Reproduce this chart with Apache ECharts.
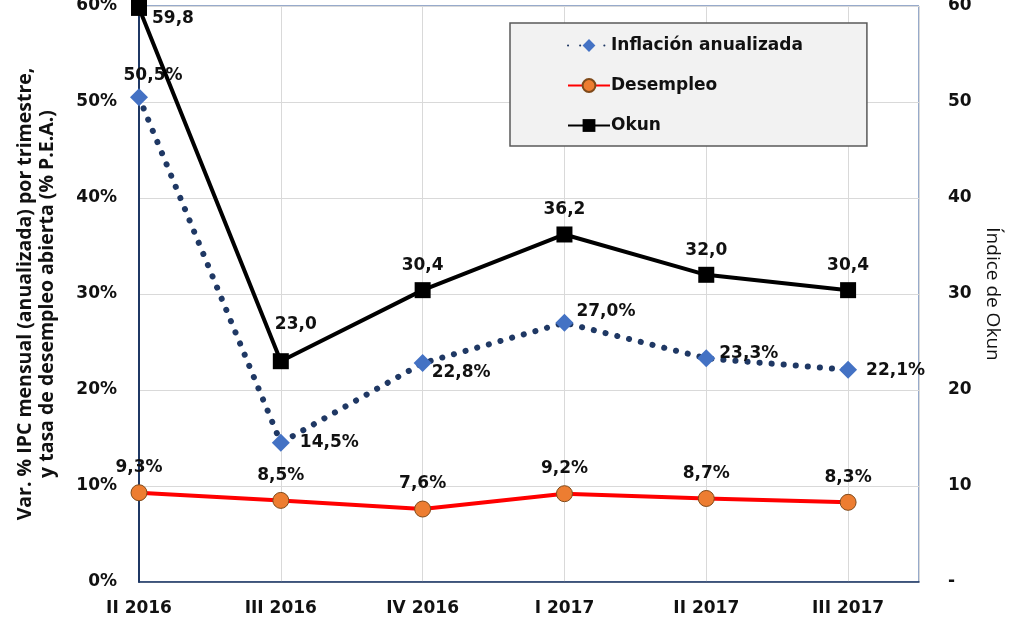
<!DOCTYPE html>
<html><head><meta charset="utf-8">
<script src="https://cdn.jsdelivr.net/npm/echarts@6/dist/echarts.min.js"></script>
<style>html,body{margin:0;padding:0;background:#fff}#c{width:1009px;height:619px}</style>
</head><body><div id="c"></div>
<script>
const categories = ['II 2016','III 2016','IV 2016','I 2017','II 2017','III 2017'];
const inflacion = [50.5, 14.5, 22.8, 27.0, 23.3, 22.1];
const desempleo = [9.3, 8.5, 7.6, 9.2, 8.7, 8.3];
const okun = [59.8, 23.0, 30.4, 36.2, 32.0, 30.4];

const fmt = v => v.toFixed(1).replace('.', ',');
const F = 'DejaVu Sans';

// label placement (style only)
const infLab = [
  {position:'top', distance:4, offset:[14,0]},
  {position:'right', distance:10, offset:[0,0]},
  {position:'right', distance:0, offset:[0,9]},
  {position:'right', distance:3, offset:[0,-11]},
  {position:'right', distance:4, offset:[0,-5]},
  {position:'right', distance:9, offset:[0,1]}
];
const okLab = [
  {position:'right', distance:5, offset:[0,11]},
  {position:'top', distance:20, offset:[15,0]},
  {position:'top', distance:8, offset:[0,0]},
  {position:'top', distance:8, offset:[0,0]},
  {position:'top', distance:8, offset:[0,0]},
  {position:'top', distance:8, offset:[0,0]}
];

const labelBase = {show:true, fontFamily:F, fontWeight:'bold', fontSize:17, color:'#111'};

const chart = echarts.init(document.getElementById('c'));
chart.setOption({
  animation:false,
  backgroundColor:'#fff',
  grid:{left:139, right:90, top:6, bottom:37, containLabel:false, outerBoundsMode:'none',
        show:true, borderColor:'#2f5597', borderWidth:1, backgroundColor:'transparent'},
  legend:{
    orient:'vertical', left:510, top:23,
    backgroundColor:'#f2f2f2', borderColor:'#595959', borderWidth:1.5,
    padding:[14, 64, 12, 57], itemGap:23, itemWidth:42, itemHeight:16,
    textStyle:{fontFamily:F, fontWeight:'bold', fontSize:17, color:'#111', padding:[0,0,0,-4]},
    data:['Inflación anualizada','Desempleo','Okun']
  },
  xAxis:{
    type:'value', min:0, max:5.5, interval:1,
    axisLine:{show:true, lineStyle:{color:'#1f3864', width:1.5}},
    axisTick:{show:false},
    splitLine:{show:true, lineStyle:{color:'#d9d9d9', width:1}},
    axisLabel:{margin:18, fontFamily:F, fontWeight:'bold', fontSize:17, color:'#111',
      formatter: v => Number.isInteger(v) && categories[v] ? categories[v] : ''}
  },
  yAxis:[
    {type:'value', min:0, max:60, interval:10, position:'left',
     axisLine:{show:true, lineStyle:{color:'#1f3864', width:2}},
     axisTick:{show:false},
     splitLine:{show:true, lineStyle:{color:'#d9d9d9', width:1}},
     axisLabel:{margin:22, fontFamily:F, fontWeight:'bold', fontSize:17, color:'#111', formatter:'{value}%'},
     name:'Var. % IPC mensual (anualizada) por trimestre,\ny tasa de desempleo abierta (% P.E.A.)',
     nameLocation:'middle', nameGap:81, nameRotate:90,
     nameTextStyle:{fontFamily:'Open Sans', fontWeight:'bold', fontSize:19.5, color:'#111', lineHeight:22}
    },
    {type:'value', min:0, max:60, interval:10, position:'right',
     axisLine:{show:false}, axisTick:{show:false}, splitLine:{show:false},
     axisLabel:{margin:29, fontFamily:F, fontWeight:'bold', fontSize:17, color:'#111',
       formatter: v => v === 0 ? '-' : String(v)},
     name:'Índice de Okun', nameLocation:'middle', nameGap:64, nameRotate:-90,
     nameTextStyle:{fontFamily:'Open Sans', fontSize:19, color:'#111'}
    }
  ],
  series:[
    {name:'Inflación anualizada', type:'line', yAxisIndex:0,
     symbol:'diamond', symbolSize:18,
     itemStyle:{color:'#4472c4'},
     lineStyle:{color:'#1f3864', width:6, type:[0.1, 12], cap:'round'},
     data: inflacion.map((v,i)=>({value:[i,v], label:Object.assign({}, labelBase, infLab[i])})),
     label:Object.assign({}, labelBase, {formatter: p => fmt(p.value[1]) + '%'}),
     z:3},
    {name:'Desempleo', type:'line', yAxisIndex:0,
     symbol:'circle', symbolSize:16,
     itemStyle:{color:'#ed7d31', borderColor:'#7f4a1a', borderWidth:1},
     lineStyle:{color:'#ff0000', width:4},
     data: desempleo.map((v,i)=>[i,v]),
     label:Object.assign({}, labelBase, {position:'top', distance:8, formatter: p => fmt(p.value[1]) + '%'}),
     z:2},
    {name:'Okun', type:'line', yAxisIndex:1,
     symbol:'rect', symbolSize:16,
     itemStyle:{color:'#000'},
     lineStyle:{color:'#000', width:4},
     data: okun.map((v,i)=>({value:[i,v], label:Object.assign({}, labelBase, okLab[i])})),
     label:Object.assign({}, labelBase, {formatter: p => fmt(p.value[1])}),
     z:4}
  ]
});
</script></body></html>
